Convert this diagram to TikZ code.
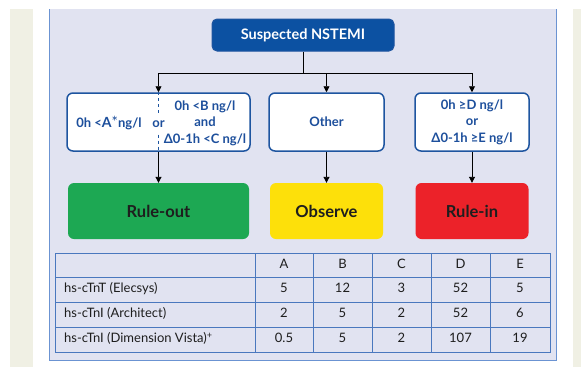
\documentclass[tikz,border=0pt]{standalone}
\usepackage{fontspec}
\setmainfont{Lato}
\usetikzlibrary{arrows.meta}
\definecolor{panel}{HTML}{E1E3F1}
\definecolor{panelline}{HTML}{6B93D2}
\definecolor{pale}{HTML}{F0F0E4}
\definecolor{navy}{HTML}{0C51A2}
\definecolor{boxblue}{HTML}{1E55A0}
\definecolor{txtblue}{HTML}{1D4F9C}
\definecolor{rgreen}{HTML}{1DA853}
\definecolor{ryellow}{HTML}{FDE00A}
\definecolor{rred}{HTML}{EC2229}
\definecolor{darktxt}{HTML}{1E1E1E}
\definecolor{tline}{HTML}{4A78BE}
\begin{document}
\begin{tikzpicture}[x=1pt,y=-1pt,
 topbox/.style={draw=boxblue, fill=navy, rounded corners=5pt, line width=1pt, text=white,
   font=\bfseries\fontsize{14.5}{16}\selectfont, minimum width=182pt, minimum height=32pt, inner sep=0pt},
 condbox/.style={draw=boxblue, fill=white, rounded corners=6pt, line width=1.5pt, text=txtblue,
   font=\bfseries\fontsize{13}{16.5}\selectfont, minimum height=58pt, inner sep=0pt, align=center},
 condtext/.style={text=txtblue, font=\bfseries\fontsize{13}{16.5}\selectfont, inner sep=0pt, align=center},
 outbox/.style={rounded corners=6pt, text=darktxt, font=\bfseries\fontsize{16.5}{18}\selectfont,
   minimum height=56pt, inner sep=0pt},
 conn/.style={line width=0.9pt, black},
 arr/.style={conn, -{Triangle[length=6pt,width=6pt]}},
 cell/.style={font=\fontsize{13}{14}\selectfont, text=darktxt, inner sep=0pt, text height=9pt, text depth=2.5pt},
 tgrid/.style={draw=tline, line width=1pt},
]
\useasboundingbox (0,0) rectangle (581,367);
\fill[white] (0,0) rectangle (581,367);
\fill[pale] (10,9) rectangle (33,367);
\fill[pale] (573,9) rectangle (581,367);
\fill[panel] (49,9) rectangle (556,360);
\draw[panelline, line width=0.8pt] (49,9) -- (49,360) -- (556,360) -- (556,9);

% top
\node[topbox] (top) at (303,35) {Suspected NSTEMI};

% condition boxes
\node[condbox, minimum width=183pt] (c1) at (158.5,122) {};
\node[condbox, minimum width=115pt] (c2) at (326.5,122) {Other};
\node[condbox, minimum width=114pt] (c3) at (472,122) {0h ≥D ng/l\\or\\Δ0-1h ≥E ng/l};

\node[condtext] (ca) at (109,123) {0h <{\fontsize{14}{16}\selectfont A}{\fontsize{15}{16}\selectfont\mdseries*}ng/l};
\node[condtext, inner ysep=7pt] (cor) at (158.5,124) {or};
\node[condtext] (cb) at (205,123) {0h <B ng/l\\and\\Δ0-1h <C ng/l};
\draw[boxblue, dashed, line width=0.8pt] (c1.north) -- (cor.north);
\draw[boxblue, dashed, line width=0.8pt] (cor.south) -- (c1.south);

% outcome boxes
\node[outbox, fill=rgreen, minimum width=181pt] (o1) at (158.5,211) {Rule-out};
\node[outbox, fill=ryellow, minimum width=113pt] (o2) at (326.5,211) {Observe};
\node[outbox, fill=rred, minimum width=113pt] (o3) at (472,211) {Rule-in};

% connectors
\coordinate (j) at (303,73);
\draw[conn] (top.south) -- (j);
\draw[conn] (j -| c1.north) -- (j -| c3.north);
\draw[arr] (j -| c1.north) -- (c1.north);
\draw[arr] (j -| c2.north) -- (c2.north);
\draw[arr] (j -| c3.north) -- (c3.north);
\draw[arr] (c1.south) -- (o1.north);
\draw[arr] (c2.south) -- (o2.north);
\draw[arr] (c3.south) -- (o3.north);

% table
\draw[tgrid] (55,253) rectangle (550,352);
\foreach \y in {277,302,327} \draw[tgrid] (55,\y) -- (550,\y);
\foreach \x in {255,313,372,431,490} \draw[tgrid] (\x,253) -- (\x,352);

\foreach \t/\x in {A/284,B/342.5,C/401.5,D/460.5,E/520}
  \node[cell] (h\t) at (\x,265) {\t};

\node[cell, anchor=west] (r1) at (64,289.5) {hs-cTnT (Elecsys)};
\node[cell, anchor=west] (r2) at (64,314.5) {hs-cTnI (Architect)};
\node[cell, anchor=west] (r3) at (64,339.5) {hs-cTnI (Dimension Vista)\textsuperscript{+}};

\foreach \v/\x [count=\i] in {5/284,12/342.5,3/401.5,52/460.5,5/520}
  \node[cell] (a\i) at (\x,289.5) {\v};
\foreach \v/\x [count=\i] in {2/284,5/342.5,2/401.5,52/460.5,6/520}
  \node[cell] (b\i) at (\x,314.5) {\v};
\foreach \v/\x [count=\i] in {0.5/284,5/342.5,2/401.5,107/460.5,19/520}
  \node[cell] (d\i) at (\x,339.5) {\v};
\end{tikzpicture}
\end{document}
